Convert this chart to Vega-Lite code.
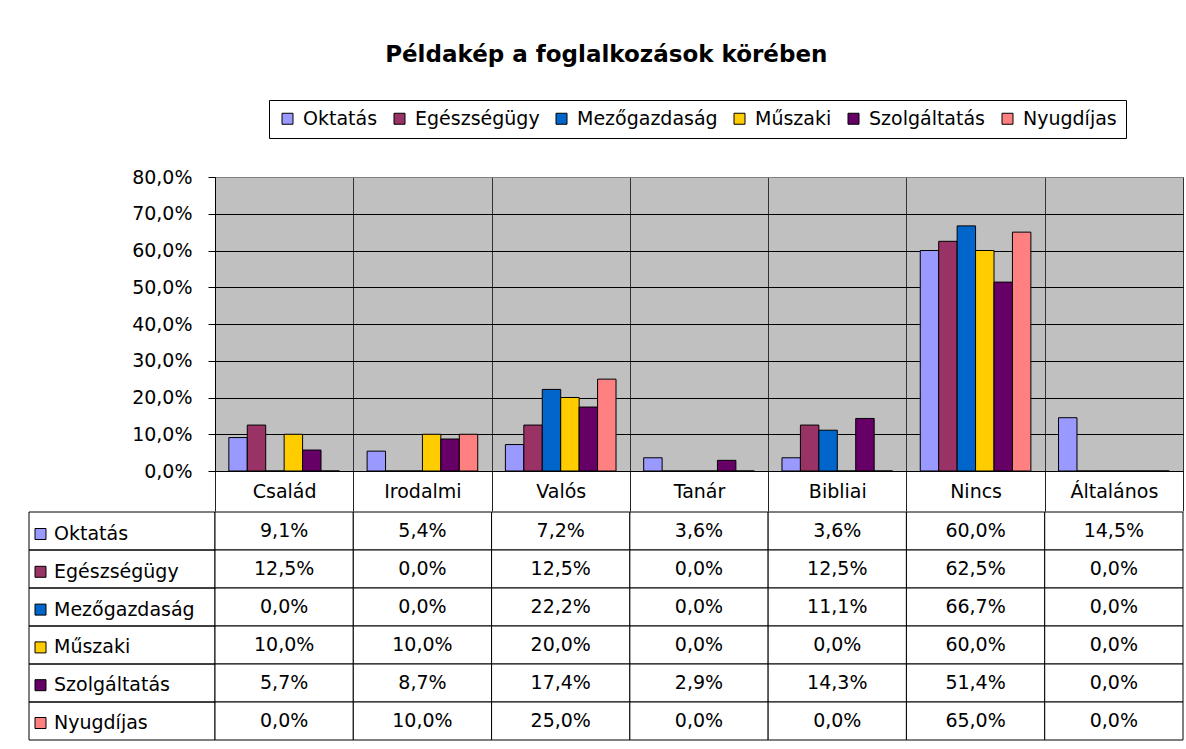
{
  "$schema": "https://vega.github.io/schema/vega-lite/v6.json",
  "background": "white",
  "padding": {"left": 28, "top": 44, "right": 4, "bottom": 8},
  "title": {
    "text": "Példakép a foglalkozások körében",
    "font": "DejaVu Sans",
    "fontSize": 23,
    "fontWeight": "bold",
    "color": "#000",
    "anchor": "middle",
    "offset": 32
  },
  "datasets": {
    "rows": [
      {"c": "Család", "s": "Oktatás", "v": 0.091},
      {"c": "Család", "s": "Egészségügy", "v": 0.125},
      {"c": "Család", "s": "Mezőgazdaság", "v": 0},
      {"c": "Család", "s": "Műszaki", "v": 0.1},
      {"c": "Család", "s": "Szolgáltatás", "v": 0.057},
      {"c": "Család", "s": "Nyugdíjas", "v": 0},
      {"c": "Irodalmi", "s": "Oktatás", "v": 0.054},
      {"c": "Irodalmi", "s": "Egészségügy", "v": 0},
      {"c": "Irodalmi", "s": "Mezőgazdaság", "v": 0},
      {"c": "Irodalmi", "s": "Műszaki", "v": 0.1},
      {"c": "Irodalmi", "s": "Szolgáltatás", "v": 0.087},
      {"c": "Irodalmi", "s": "Nyugdíjas", "v": 0.1},
      {"c": "Valós", "s": "Oktatás", "v": 0.072},
      {"c": "Valós", "s": "Egészségügy", "v": 0.125},
      {"c": "Valós", "s": "Mezőgazdaság", "v": 0.222},
      {"c": "Valós", "s": "Műszaki", "v": 0.2},
      {"c": "Valós", "s": "Szolgáltatás", "v": 0.174},
      {"c": "Valós", "s": "Nyugdíjas", "v": 0.25},
      {"c": "Tanár", "s": "Oktatás", "v": 0.036},
      {"c": "Tanár", "s": "Egészségügy", "v": 0},
      {"c": "Tanár", "s": "Mezőgazdaság", "v": 0},
      {"c": "Tanár", "s": "Műszaki", "v": 0},
      {"c": "Tanár", "s": "Szolgáltatás", "v": 0.029},
      {"c": "Tanár", "s": "Nyugdíjas", "v": 0},
      {"c": "Bibliai", "s": "Oktatás", "v": 0.036},
      {"c": "Bibliai", "s": "Egészségügy", "v": 0.125},
      {"c": "Bibliai", "s": "Mezőgazdaság", "v": 0.111},
      {"c": "Bibliai", "s": "Műszaki", "v": 0},
      {"c": "Bibliai", "s": "Szolgáltatás", "v": 0.143},
      {"c": "Bibliai", "s": "Nyugdíjas", "v": 0},
      {"c": "Nincs", "s": "Oktatás", "v": 0.6},
      {"c": "Nincs", "s": "Egészségügy", "v": 0.625},
      {"c": "Nincs", "s": "Mezőgazdaság", "v": 0.667},
      {"c": "Nincs", "s": "Műszaki", "v": 0.6},
      {"c": "Nincs", "s": "Szolgáltatás", "v": 0.514},
      {"c": "Nincs", "s": "Nyugdíjas", "v": 0.65},
      {"c": "Általános", "s": "Oktatás", "v": 0.145},
      {"c": "Általános", "s": "Egészségügy", "v": 0},
      {"c": "Általános", "s": "Mezőgazdaság", "v": 0},
      {"c": "Általános", "s": "Műszaki", "v": 0},
      {"c": "Általános", "s": "Szolgáltatás", "v": 0},
      {"c": "Általános", "s": "Nyugdíjas", "v": 0}
    ]
  },
  "data": {"name": "rows"},
  "spacing": -2,
  "resolve": {"scale": {"color": "independent"}, "legend": {"color": "independent"}},
  "vconcat": [
    {
      "bounds": "flush",
      "spacing": 0,
      "resolve": {"scale": {"color": "independent"}, "legend": {"color": "independent"}},
      "hconcat": [
        {
          "width": 186,
          "height": 294,
          "data": {"values": []},
          "mark": "point",
          "view": {"stroke": null}
        },
        {
          "width": 968,
          "height": 294,
          "view": {"fill": "#C0C0C0", "stroke": "#808080"},
          "mark": {"type": "bar", "stroke": "#000", "strokeWidth": 1},
          "encoding": {
            "x": {
              "field": "c",
              "type": "nominal",
              "sort": ["Család", "Irodalmi", "Valós", "Tanár", "Bibliai", "Nincs", "Általános"],
              "scale": {"paddingInner": 0, "paddingOuter": 0},
              "axis": {
                "title": null,
                "grid": true,
                "gridColor": "#333",
                "tickBand": "extent",
                "tickSize": 40,
                "tickColor": "#222",
                "domainColor": "#000",
                "labelAngle": 0,
                "labelPadding": -20,
                "labelBaseline": "middle"
              }
            },
            "xOffset": {
              "field": "s",
              "sort": ["Oktatás", "Egészségügy", "Mezőgazdaság", "Műszaki", "Szolgáltatás", "Nyugdíjas"],
              "scale": {"paddingInner": 0, "paddingOuter": 0.75}
            },
            "y": {
              "field": "v",
              "type": "quantitative",
              "scale": {"domain": [0, 0.8]},
              "axis": {
                "title": null,
                "values": [0, 0.1, 0.2, 0.3, 0.4, 0.5, 0.6, 0.7, 0.8],
                "format": ".1%",
                "tickSize": 7,
                "tickColor": "#000",
                "labelPadding": 16,
                "domainColor": "#000",
                "gridColor": {"condition": {"test": "datum.value >= 0.79", "value": "#808080"}, "value": "#000"}
              }
            },
            "color": {
              "field": "s",
              "type": "nominal",
              "scale": {
                "domain": ["Oktatás", "Egészségügy", "Mezőgazdaság", "Műszaki", "Szolgáltatás", "Nyugdíjas"],
                "range": ["#9999FF", "#993366", "#0066CC", "#FFCC00", "#660066", "#FF8080"]
              },
              "legend": {
                "orient": "none",
                "legendX": 54,
                "legendY": -77,
                "direction": "horizontal",
                "title": null,
                "symbolType": "square",
                "symbolSize": 121,
                "symbolStrokeColor": "#000",
                "symbolStrokeWidth": 1,
                "labelFontSize": 19,
                "labelOffset": 6,
                "columnPadding": 12,
                "padding": 9,
                "strokeColor": "#000",
                "labelLimit": 0
              }
            }
          }
        }
      ]
    },
    {
      "bounds": "flush",
      "spacing": 0,
      "resolve": {"scale": {"color": "independent"}, "legend": {"color": "independent"}},
      "hconcat": [
        {
          "width": 186,
          "height": 228,
          "view": {"stroke": null},
          "transform": [{"aggregate": [{"op": "count", "as": "n"}], "groupby": ["s"]}],
          "mark": {"type": "rect", "stroke": "#000", "strokeWidth": 1, "fillOpacity": 0},
          "encoding": {
            "y": {
              "field": "s",
              "type": "nominal",
              "sort": ["Oktatás", "Egészségügy", "Mezőgazdaság", "Műszaki", "Szolgáltatás", "Nyugdíjas"],
              "scale": {"paddingInner": 0, "paddingOuter": 0},
              "axis": null
            },
            "color": {
              "field": "s",
              "type": "nominal",
              "scale": {
                "domain": ["Oktatás", "Egészségügy", "Mezőgazdaság", "Műszaki", "Szolgáltatás", "Nyugdíjas"],
                "range": ["#9999FF", "#993366", "#0066CC", "#FFCC00", "#660066", "#FF8080"]
              },
              "legend": {
                "orient": "none",
                "legendX": 2,
                "legendY": 12.5,
                "direction": "vertical",
                "title": null,
                "symbolType": "square",
                "symbolSize": 121,
                "symbolStrokeColor": "#000",
                "symbolStrokeWidth": 1,
                "symbolOpacity": 1,
                "labelFontSize": 19,
                "labelOffset": 4,
                "rowPadding": 17.8,
                "padding": 0,
                "labelLimit": 0,
                "encode": {"symbols": {"update": {"fillOpacity": {"value": 1}, "opacity": {"value": 1}}}}
              }
            }
          }
        },
        {
          "width": 968,
          "height": 228,
          "view": {"stroke": null},
          "encoding": {
            "x": {
              "field": "c",
              "type": "nominal",
              "sort": ["Család", "Irodalmi", "Valós", "Tanár", "Bibliai", "Nincs", "Általános"],
              "scale": {"paddingInner": 0, "paddingOuter": 0},
              "axis": null
            },
            "y": {
              "field": "s",
              "type": "nominal",
              "sort": ["Oktatás", "Egészségügy", "Mezőgazdaság", "Műszaki", "Szolgáltatás", "Nyugdíjas"],
              "scale": {"paddingInner": 0, "paddingOuter": 0},
              "axis": null
            }
          },
          "layer": [
            {"mark": {"type": "rect", "fill": "white", "stroke": "#000", "strokeWidth": 1}},
            {
              "mark": {"type": "text", "fontSize": 19, "color": "#000"},
              "encoding": {"text": {"field": "v", "type": "quantitative", "format": ".1%"}}
            }
          ]
        }
      ]
    }
  ],
  "config": {
    "font": "DejaVu Sans",
    "locale": {"number": {"decimal": ",", "thousands": " ", "grouping": [3], "currency": ["", " Ft"]}},
    "axis": {"labelFont": "DejaVu Sans", "labelFontSize": 19, "labelColor": "#000"},
    "legend": {"labelFont": "DejaVu Sans", "labelColor": "#000"}
  }
}
